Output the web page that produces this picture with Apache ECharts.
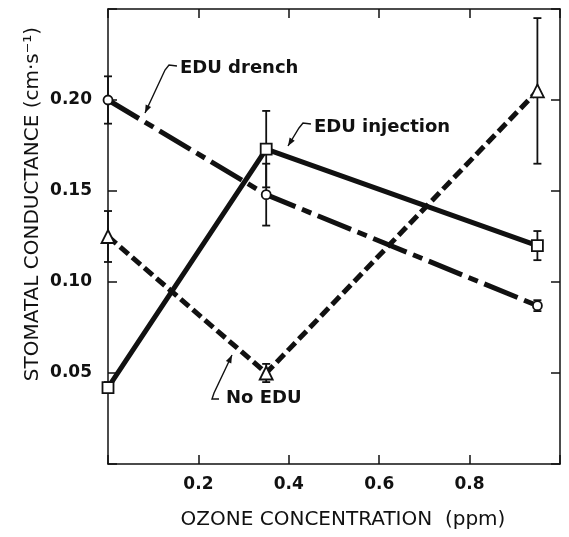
<!DOCTYPE html>
<html>
<head>
<meta charset="utf-8">
<script src="https://cdn.jsdelivr.net/npm/echarts@6/dist/echarts.min.js"></script>
<style>
  html, body { margin: 0; padding: 0; background: #fff; }
  #chart { width: 569px; height: 537px; }
</style>
</head>
<body>
<div id="chart"></div>
<script>
// ozone levels (ppm)
var ozone = [0, 0.35, 0.95];
// stomatal conductance, cm/s
var drench = [0.200, 0.148, 0.087];
var drenchErr = [0.013, 0.017, 0.003];
var injection = [0.042, 0.173, 0.120];
var injectionErr = [0.003, 0.021, 0.008];
var noEdu = [0.125, 0.050, 0.205];
var noEduErr = [0.014, 0.005, 0.040];
// tick labels
var xTickLabels = ['0.2', '0.4', '0.6', '0.8'];
var yTickLabels = ['0.05', '0.10', '0.15', '0.20'];

var ink = '#111';
var font = 'DejaVu Sans';

function pts(vals) {
  return ozone.map(function (x, i) { return [x, vals[i]]; });
}

function errBars(vals, errs) {
  return {
    type: 'custom',
    z: 1,
    silent: true,
    clip: false,
    data: ozone.map(function (x, i) { return [x, vals[i] - errs[i], vals[i] + errs[i]]; }),
    renderItem: function (params, api) {
      var lo = api.coord([api.value(0), api.value(1)]);
      var hi = api.coord([api.value(0), api.value(2)]);
      var w = 4;
      var st = { stroke: ink, lineWidth: 1.8 };
      return {
        type: 'group',
        children: [
          { type: 'line', shape: { x1: lo[0], y1: lo[1], x2: hi[0], y2: hi[1] }, style: st },
          { type: 'line', shape: { x1: lo[0] - w, y1: lo[1], x2: lo[0] + w, y2: lo[1] }, style: st },
          { type: 'line', shape: { x1: hi[0] - w, y1: hi[1], x2: hi[0] + w, y2: hi[1] }, style: st }
        ]
      };
    }
  };
}

function lineSeries(name, vals, symbol, size, dash) {
  return {
    name: name,
    type: 'line',
    z: 3,
    clip: false,
    data: pts(vals),
    symbol: symbol,
    symbolSize: size,
    showAllSymbol: true,
    lineStyle: { color: ink, width: 5, type: dash, cap: 'butt' },
    itemStyle: { color: '#fff', borderColor: ink, borderWidth: 1.8 }
  };
}

// leader line with a small arrowhead at its last point
function leader(points) {
  var a = points[points.length - 2], b = points[points.length - 1];
  var ang = Math.atan2(b[1] - a[1], b[0] - a[0]);
  var L = 8, W = 3;
  var bx = b[0] - L * Math.cos(ang), by = b[1] - L * Math.sin(ang);
  var head = [
    b,
    [bx + W * Math.sin(ang), by - W * Math.cos(ang)],
    [bx - W * Math.sin(ang), by + W * Math.cos(ang)]
  ];
  return [
    { type: 'polyline', shape: { points: points }, style: { stroke: ink, lineWidth: 1.4, fill: null }, z: 10 },
    { type: 'polygon', shape: { points: head }, style: { fill: ink }, z: 10 }
  ];
}

function label(text, x, y) {
  return {
    type: 'text', x: x, y: y, z: 10,
    style: { text: text, font: 'bold 18px "' + font + '"', fill: ink, textVerticalAlign: 'middle' }
  };
}

var axisCommon = {
  axisLine: { onZero: false, lineStyle: { color: ink, width: 1.5 } },
  axisTick: { inside: true, length: 9, lineStyle: { color: ink, width: 1.5 } },
  splitLine: { show: false }
};

var chart = echarts.init(document.getElementById('chart'));

var option = {
  animation: false,
  backgroundColor: '#fff',
  grid: { left: 108, right: 9, top: 9, bottom: 73 },
  xAxis: [
    Object.assign({
      type: 'value', min: 0, max: 1, interval: 0.2, position: 'bottom',
      axisLabel: {
        margin: 12, color: ink, fontFamily: font, fontSize: 17, fontWeight: 'bold',
        formatter: function (v) { var s = v.toFixed(1); return xTickLabels.indexOf(s) >= 0 ? s : ''; }
      }
    }, axisCommon),
    Object.assign({
      type: 'value', min: 0, max: 1, interval: 0.2, position: 'top', axisLabel: { show: false }
    }, axisCommon)
  ],
  yAxis: [
    Object.assign({
      type: 'value', min: 0, max: 0.25, interval: 0.05, position: 'left',
      axisLabel: {
        margin: 16, color: ink, fontFamily: font, fontSize: 17, fontWeight: 'bold',
        formatter: function (v) { var s = v.toFixed(2); return yTickLabels.indexOf(s) >= 0 ? s : ''; }
      }
    }, axisCommon),
    Object.assign({
      type: 'value', min: 0, max: 0.25, interval: 0.05, position: 'right', axisLabel: { show: false }
    }, axisCommon)
  ],
  series: [
    errBars(drench, drenchErr),
    errBars(injection, injectionErr),
    errBars(noEdu, noEduErr),
    lineSeries('EDU drench', drench, 'circle', 9, [36, 7, 10, 7]),
    lineSeries('EDU injection', injection, 'rect', 11, 'solid'),
    lineSeries('No EDU', noEdu, 'triangle', 13, [11, 5])
  ],
  graphic: [
    label('EDU drench', 180, 68),
    label('EDU injection', 314, 127),
    label('No EDU', 226, 398),
    {
      type: 'text', x: 343, y: 520, z: 10,
      style: { text: 'OZONE CONCENTRATION  (ppm)', font: '20px "' + font + '"', fill: ink,
        textAlign: 'center', textVerticalAlign: 'middle' }
    },
    {
      type: 'text', x: 33, y: 204, rotation: Math.PI / 2, z: 10,
      style: { text: 'STOMATAL CONDUCTANCE (cm\u00b7s\u207b\u00b9)', font: '20px "' + font + '"', fill: ink,
        textAlign: 'center', textVerticalAlign: 'middle' }
    }
  ].concat(
    leader([[177, 66], [169, 65], [165, 70], [145, 113]]),
    leader([[311, 124], [303, 123], [299, 128], [288, 146]]),
    leader([[219, 399], [212, 399], [214, 393], [232, 355]])
  )
};

chart.setOption(option);
</script>
</body>
</html>
